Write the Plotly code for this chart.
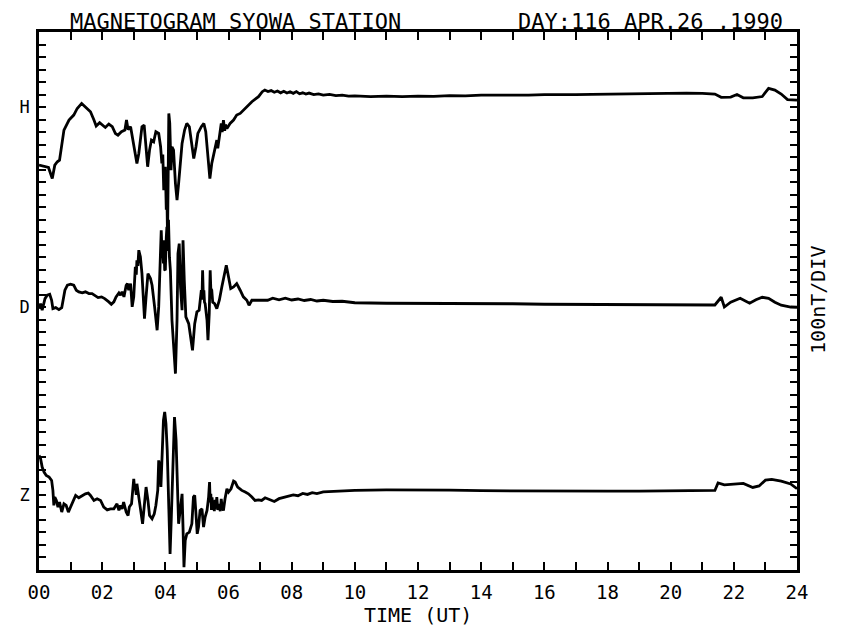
import plotly.graph_objects as go

# ---------------- data (nT relative to each trace's baseline tick) ----------------
hour_ticks = list(range(0, 25))
hour_labels = [f"{h:02d}" if h % 2 == 0 else "" for h in hour_ticks]

components = ["H", "D", "Z"]
baseline_nT = {"H": 3700, "D": 2100, "Z": 600}   # vertical offset of each trace (100 nT per division)
y_full_range = [0, 4300]

H_readings = [
    (0.00, -464), (0.16, -477), (0.30, -483), (0.42, -571), (0.50, -464), (0.58, -437), (0.65, -424),
    (0.79, -184), (0.95, -104), (1.10, -64), (1.21, -11), (1.35, 29), (1.47, 3), (1.63, -37),
    (1.74, -104), (1.81, -152), (1.92, -125), (2.02, -144), (2.10, -163), (2.21, -136), (2.32, -157),
    (2.42, -211), (2.50, -224), (2.61, -197), (2.72, -184), (2.77, -104), (2.82, -179), (2.90, -157),
    (2.97, -251), (3.05, -371), (3.10, -451), (3.16, -371), (3.26, -157), (3.33, -144), (3.39, -371),
    (3.44, -477), (3.50, -344), (3.56, -264), (3.63, -277), (3.70, -197), (3.79, -211), (3.85, -317),
    (3.89, -451), (3.92, -380), (3.95, -664), (3.98, -560), (4.00, -477), (4.03, -820), (4.05, -700),
    (4.07, -1050), (4.09, -600), (4.11, -51), (4.14, -131), (4.18, -504), (4.21, -317), (4.26, -344),
    (4.32, -611), (4.37, -744), (4.42, -611), (4.47, -451), (4.53, -291), (4.61, -184), (4.68, -131),
    (4.76, -157), (4.84, -317), (4.90, -411), (4.97, -317), (5.03, -211), (5.14, -157), (5.22, -131),
    (5.28, -197), (5.37, -504), (5.41, -571), (5.47, -451), (5.56, -344), (5.63, -264), (5.66, -330),
    (5.68, -290), (5.72, -250), (5.75, -180), (5.77, -131), (5.80, -200), (5.82, -110), (5.84, -104),
    (5.88, -190), (5.90, -140), (5.95, -171), (6.05, -131), (6.16, -104), (6.26, -64), (6.37, -51),
    (6.53, -11), (6.74, 43), (6.95, 83), (7.07, 123), (7.15, 136), (7.25, 124), (7.35, 132),
    (7.45, 118), (7.55, 128), (7.65, 114), (7.75, 126), (7.85, 112), (7.95, 122), (8.05, 110),
    (8.15, 124), (8.25, 106), (8.35, 114), (8.45, 104), (8.55, 112), (8.70, 100), (8.85, 106),
    (9.00, 96), (9.20, 102), (9.40, 92), (9.60, 96), (9.80, 88), (10.0, 90), (10.5, 84), (11.0, 88),
    (11.5, 84), (12.0, 88), (12.5, 86), (13.0, 92), (13.5, 90), (14.0, 96), (14.5, 94), (15.0, 98),
    (15.5, 96), (16.0, 100), (16.5, 98), (17.0, 100), (17.5, 102), (18.0, 104), (18.5, 100),
    (19.0, 104), (19.5, 106), (20.0, 110), (20.5, 112), (21.0, 110), (21.4, 104), (21.6, 78),
    (21.9, 80), (22.1, 100), (22.3, 74), (22.6, 74), (22.9, 84), (23.1, 150), (23.3, 136),
    (23.5, 104), (23.7, 60), (24.0, 56),
]

D_readings = [
    (0.00, -11), (0.05, 29), (0.10, -24), (0.19, 69), (0.26, 96), (0.34, 104), (0.40, 56), (0.44, -11),
    (0.53, -3), (0.63, -19), (0.72, -3), (0.76, 56), (0.82, 136), (0.90, 176), (1.00, 184), (1.10, 176),
    (1.18, 136), (1.26, 123), (1.37, 115), (1.47, 123), (1.58, 109), (1.68, 109), (1.79, 88),
    (1.87, 77), (1.98, 83), (2.08, 69), (2.21, 43), (2.29, 24), (2.37, 43), (2.44, 83), (2.53, 115),
    (2.58, 96), (2.63, 123), (2.69, 83), (2.76, 176), (2.80, 189), (2.84, 136), (2.90, 189),
    (2.95, 3), (3.00, 83), (3.05, 323), (3.08, 260), (3.10, 376), (3.13, 330), (3.16, 456),
    (3.21, 403), (3.26, 269), (3.30, 109), (3.34, -91), (3.39, 83), (3.45, 269), (3.53, 229),
    (3.58, 176), (3.66, 3), (3.74, -184), (3.79, 3), (3.84, 349), (3.87, 616), (3.90, 400),
    (3.92, 456), (3.94, 350), (3.95, 536), (3.98, 300), (4.00, 296), (4.03, 560), (4.05, 643),
    (4.07, 450), (4.10, 700), (4.13, 400), (4.16, 296), (4.21, -104), (4.26, -317), (4.32, -531),
    (4.37, -104), (4.40, 429), (4.44, 509), (4.48, 163), (4.53, -24), (4.56, 536), (4.60, 216),
    (4.65, -77), (4.74, -131), (4.82, -264), (4.86, -344), (4.93, -131), (5.00, -37), (5.07, -24),
    (5.14, 136), (5.16, 60), (5.18, 296), (5.20, 120), (5.22, 136), (5.24, 40), (5.26, 29),
    (5.32, -104), (5.35, -264), (5.39, -51), (5.42, 296), (5.44, 150), (5.47, 136), (5.50, 40),
    (5.56, 29), (5.63, -11), (5.71, 56), (5.79, 163), (5.87, 269), (5.93, 336), (6.00, 243),
    (6.07, 149), (6.16, 163), (6.26, 189), (6.37, 136), (6.47, 83), (6.58, 56), (6.65, 16),
    (6.74, 56), (6.89, 56), (7.05, 61), (7.24, 56), (7.4, 72), (7.6, 60), (7.8, 72), (8.0, 58),
    (8.2, 66), (8.4, 54), (8.6, 62), (8.8, 50), (9.0, 56), (9.3, 46), (9.6, 48), (10.0, 36),
    (11.0, 32), (12.0, 32), (13.0, 30), (14.0, 30), (15.0, 28), (16.0, 24), (17.0, 22), (18.0, 20),
    (19.0, 18), (20.0, 16), (20.9, 16), (21.4, 18), (21.6, 80), (21.7, 2), (21.9, 40), (22.2, 72),
    (22.5, 32), (22.7, 60), (22.9, 80), (23.1, 72), (23.3, 40), (23.5, 16), (23.8, 2), (24.0, 0),
]

Z_readings = [
    (0.00, 316), (0.05, 289), (0.10, 223), (0.16, 183), (0.23, 156), (0.32, 143), (0.40, 116),
    (0.44, 36), (0.47, -84), (0.50, -17), (0.55, -44), (0.60, -97), (0.65, -57), (0.72, -137),
    (0.79, -71), (0.86, -84), (0.93, -137), (1.00, -97), (1.07, -44), (1.16, -4), (1.26, -23),
    (1.37, -4), (1.47, 9), (1.56, 15), (1.63, -4), (1.74, -44), (1.84, -31), (1.95, -44),
    (2.05, -97), (2.16, -119), (2.26, -111), (2.37, -111), (2.47, -71), (2.53, -124), (2.58, -84),
    (2.63, -111), (2.68, -57), (2.76, -137), (2.82, -164), (2.86, -97), (2.93, -71), (3.00, 129),
    (3.03, 40), (3.05, 63), (3.08, 0), (3.10, 89), (3.16, -17), (3.22, -151), (3.28, -231),
    (3.35, -44), (3.39, 63), (3.45, -44), (3.50, -164), (3.58, -191), (3.65, -151), (3.70, -84),
    (3.76, 36), (3.79, 276), (3.83, 223), (3.86, 63), (3.90, 303), (3.94, 596), (3.98, 663),
    (4.02, 569), (4.06, 356), (4.10, -44), (4.15, -471), (4.19, -177), (4.24, 223), (4.29, 623),
    (4.34, 436), (4.37, 89), (4.42, -231), (4.47, -124), (4.53, 9), (4.56, -257), (4.59, -577),
    (4.63, -364), (4.68, -311), (4.76, -297), (4.84, -231), (4.89, -17), (4.93, -4), (4.97, -151),
    (5.01, -311), (5.05, -257), (5.10, -124), (5.16, -111), (5.21, -257), (5.26, -177), (5.32, -124),
    (5.37, -17), (5.40, 103), (5.42, -60), (5.44, 9), (5.46, -120), (5.48, -20), (5.50, -110),
    (5.53, -44), (5.55, -130), (5.58, -40), (5.60, -110), (5.63, -17), (5.66, -120), (5.71, -71),
    (5.74, -130), (5.77, -31), (5.80, -100), (5.84, -124), (5.89, -31), (5.95, 49), (6.00, 23),
    (6.08, 49), (6.16, 111), (6.21, 103), (6.29, 63), (6.42, 36), (6.53, 23), (6.63, 9),
    (6.74, -17), (6.84, -44), (6.95, -39), (7.05, -44), (7.16, -23), (7.30, -40), (7.45, -52),
    (7.60, -30), (7.75, -20), (7.90, -10), (8.05, 0), (8.20, -6), (8.35, 12), (8.50, 4),
    (8.65, 18), (8.80, 10), (9.00, 24), (9.50, 30), (10.0, 36), (11.0, 40), (12.0, 42), (13.0, 38),
    (14.0, 34), (15.0, 32), (16.0, 30), (17.0, 28), (18.0, 30), (19.0, 30), (20.0, 30), (21.0, 32),
    (21.4, 36), (21.5, 96), (21.7, 80), (22.0, 86), (22.3, 92), (22.6, 60), (22.8, 72), (23.0, 118),
    (23.2, 124), (23.5, 110), (23.8, 88), (24.0, 50),
]

readings = {"H": H_readings, "D": D_readings, "Z": Z_readings}

# ---------------- figure ----------------
# The page body adds an 8 px margin, so the figure is 8 px smaller and its
# plot area offset so the frame lands at the reference position in the window.
FONT = "DejaVu Sans Mono"
fig = go.Figure()
for comp in components:
    hrs = [r[0] for r in readings[comp]]
    vals = [r[1] + baseline_nT[comp] for r in readings[comp]]
    fig.add_trace(go.Scatter(x=hrs, y=vals, mode="lines", name=comp,
                             line=dict(color="black", width=2.8), showlegend=False,
                             hoverinfo="skip"))

y_tickvals = list(range(y_full_range[0], y_full_range[1] + 1, 100))
label_at = {v: k for k, v in baseline_nT.items()}
y_ticktext = [label_at.get(v, "") for v in y_tickvals]

fig.update_layout(
    width=837, height=624,
    margin=dict(l=29, r=48, t=24, b=62),
    paper_bgcolor="white", plot_bgcolor="white",
    font=dict(family=FONT, color="black", size=19),
    xaxis=dict(range=[0, 24], tickvals=hour_ticks, ticktext=hour_labels,
               ticks="inside", ticklen=8, tickwidth=2, tickcolor="black",
               showline=True, linewidth=2.5, linecolor="black", mirror="ticks",
               ticklabelstandoff=3,
               showgrid=False, zeroline=False, tickfont=dict(size=19, family=FONT)),
    yaxis=dict(range=y_full_range, tickvals=y_tickvals, ticktext=y_ticktext,
               ticks="inside", ticklen=7, tickwidth=2, tickcolor="black",
               showline=True, linewidth=2.5, linecolor="black", mirror="ticks",
               ticklabelstandoff=3,
               showgrid=False, zeroline=False, tickfont=dict(size=17, family=FONT)),
    annotations=[
        dict(text="MAGNETOGRAM SYOWA STATION", xref="paper", yref="paper",
             x=(67 - 37) / 760, y=1 + 24 / 538, xanchor="left", yanchor="top",
             borderpad=0, showarrow=False, font=dict(size=22, family=FONT)),
        dict(text="DAY:116 APR.26 ,1990", xref="paper", yref="paper",
             x=(784 - 37) / 760, y=1 + 24 / 538, xanchor="right", yanchor="top",
             borderpad=0, showarrow=False, font=dict(size=22, family=FONT)),
        dict(text="TIME (UT)", xref="paper", yref="paper",
             x=(417 - 37) / 760, y=-(615 - 570) / 538, xanchor="center", yanchor="middle",
             borderpad=0, showarrow=False, font=dict(size=20, family=FONT)),
        dict(text="100nT/DIV", xref="paper", yref="paper",
             x=(818 - 37) / 760, y=(570 - 300) / 538, xanchor="center", yanchor="middle",
             textangle=-90, showarrow=False, font=dict(size=20, family=FONT)),
    ],
)

fig.write_html("out.html")
